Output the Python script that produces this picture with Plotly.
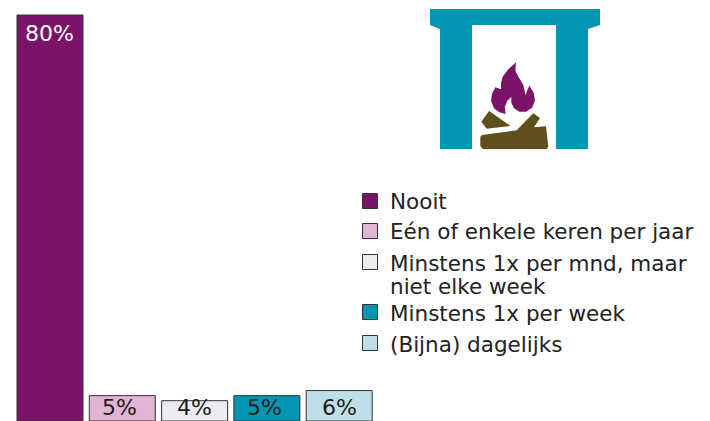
import plotly.graph_objects as go

categories = ["Nooit", "Eén of enkele keren per jaar", "Minstens 1x per mnd, maar niet elke week",
              "Minstens 1x per week", "(Bijna) dagelijks"]
values = [80, 5, 4, 5, 6]
labels = ["80%", "5%", "4%", "5%", "6%"]
colors = ["#7b1368", "#e0b4d2", "#eeecf2", "#0095b3", "#bfdfe8"]
text_colors = ["white", "#1c1c1c", "#1c1c1c", "#1c1c1c", "#1c1c1c"]

W, H = 710, 421
FONT = "DejaVu Sans"
TEXT = "#222222"
LABEL_NUDGE = [-1, -3, 0, -2, 0]

fig = go.Figure()
for i, (c, v, col) in enumerate(zip(categories, values, colors)):
    fig.add_trace(go.Bar(
        x=[i], y=[v], name=c, width=0.913, showlegend=False,
        marker=dict(color=col, line=dict(color="#333333", width=1)),
    ))

# value labels, anchored to the bars through the data axes
for i, (v, l, tc) in enumerate(zip(values, labels, text_colors)):
    top = i == 0
    fig.add_annotation(x=i, y=v if top else 0, xref="x", yref="y", text=l, showarrow=False,
                       yanchor="top" if top else "bottom", yshift=-4 if top else -1,
                       xshift=LABEL_NUDGE[i],
                       font=dict(color=tc, size=22, family=FONT))


def px(x, y):
    return x / W, 1 - y / H


def path(points):
    """Icon outline given in zoom-crop pixels of the fireplace picture."""
    s = []
    for k, (x, y) in enumerate(points):
        a, b = px(420 + x / 3, y / 3)
        s.append(("M" if k == 0 else "L") + f"{a:.5f},{b:.5f}")
    return " ".join(s) + " Z"


mantel = [(30, 27), (540, 27), (540, 75), (504, 87), (504, 447), (408, 447), (408, 75), (156, 75),
          (156, 447), (60, 447), (60, 87), (30, 75)]
flame = [(288, 187), (265, 208), (248, 230), (243, 250), (243, 268), (226, 262), (216, 282), (213, 302),
         (222, 325), (238, 337), (257, 342), (254, 322), (262, 302), (274, 291), (274, 308), (282, 325),
         (298, 335), (318, 335), (336, 323), (345, 302), (341, 278), (328, 257), (322, 270), (317, 286),
         (310, 255), (296, 232), (286, 212)]
log1 = [(207, 333), (272, 378), (200, 386), (184, 365)]
log2 = [(186, 405), (290, 391), (340, 340), (360, 354), (342, 382), (378, 379), (385, 440), (380, 447),
        (188, 447), (181, 438), (181, 410)]

for pts, col in [(mantel, "#0095b3"), (flame, "#7b1368"), (log1, "#5f4f1c"), (log2, "#5f4f1c")]:
    fig.add_shape(type="path", path=path(pts), xref="paper", yref="paper",
                  fillcolor=col, line=dict(width=0), layer="above")

# legend: swatch centre y and text lines (y) for each category
legend_rows = [
    (201, [("Nooit", 201)]),
    (231, [("Eén of enkele keren per jaar", 232)]),
    (262, [("Minstens 1x per mnd, maar", 263), ("niet elke week", 286)]),
    (312, [("Minstens 1x per week", 313)]),
    (343, [("(Bijna) dagelijks", 344)]),
]
for col, (sy, lines) in zip(colors, legend_rows):
    x0, y0 = px(362.5, sy - 7.5)
    x1, y1 = px(377.5, sy + 7.5)
    fig.add_shape(type="rect", xref="paper", yref="paper", x0=x0, x1=x1, y0=y0, y1=y1,
                  fillcolor=col, line=dict(color="#333333", width=1))
    for txt, ty in lines:
        ax, ay = px(390, ty)
        fig.add_annotation(x=ax, y=ay, xref="paper", yref="paper", text=txt, showarrow=False,
                           xanchor="left", yanchor="middle", xshift=-1, align="left",
                           font=dict(size=21.5, family=FONT, color=TEXT), borderpad=0)

fig.update_layout(
    width=W, height=H, margin=dict(l=0, r=0, t=0, b=0), autosize=False,
    paper_bgcolor="white", plot_bgcolor="white", showlegend=False,
    barmode="overlay", font=dict(family=FONT, size=21, color=TEXT),
    xaxis=dict(range=[-50 / 72.3, 660 / 72.3], visible=False, fixedrange=True),
    yaxis=dict(range=[0, 82.96], visible=False, fixedrange=True),
)
fig.write_html("out.html", config={"displayModeBar": False},
               post_script="document.body.style.margin='0';document.body.style.overflow='hidden';")
